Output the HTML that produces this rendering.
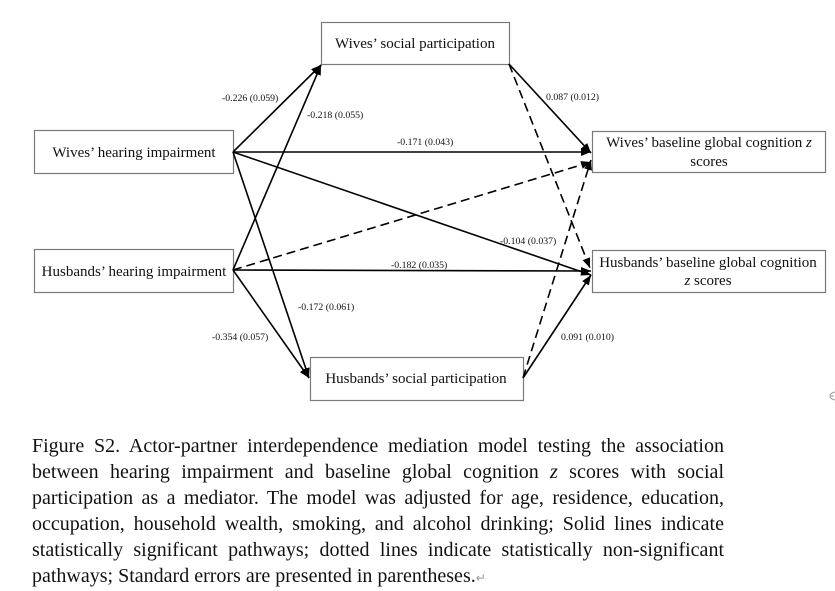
<!DOCTYPE html>
<html>
<head>
<meta charset="utf-8">
<style>
  html, body { margin:0; padding:0; background:#fff; }
  body { width:835px; height:587px; position:relative; overflow:hidden; font-family:"Liberation Serif", serif; }
  svg { position:absolute; left:0; top:0; }
  .cap { position:absolute; left:32px; top:432.5px; width:692px; font-size:20px; line-height:26px; color:#111; }
  .cap div { text-align:justify; text-align-last:justify; white-space:nowrap; }
  .cap div.last { text-align:left; text-align-last:left; }
</style>
</head>
<body>
<svg width="835" height="587" viewBox="0 0 835 587" xmlns="http://www.w3.org/2000/svg">
  <defs>
    <marker id="ah" markerUnits="userSpaceOnUse" markerWidth="12" markerHeight="10" refX="10" refY="4" orient="auto">
      <path d="M0,0 L10,4 L0,8 Z" fill="#000"/>
    </marker>
  </defs>
  <g fill="#fff" stroke="#7a7a7a" stroke-width="1.2">
    <rect x="321.5" y="22.5" width="188" height="42"/>
    <rect x="34.5" y="130.5" width="199" height="43"/>
    <rect x="592.5" y="131.5" width="233" height="41"/>
    <rect x="34.5" y="249.5" width="199" height="43"/>
    <rect x="592.5" y="250.5" width="233" height="42"/>
    <rect x="310.5" y="357.5" width="213" height="43"/>
  </g>
  <g stroke="#000" stroke-width="1.6" fill="none" marker-end="url(#ah)">
    <line x1="233" y1="152" x2="321" y2="65"/>
    <line x1="233" y1="270" x2="321" y2="65"/>
    <line x1="233" y1="152" x2="309" y2="378"/>
    <line x1="233" y1="270" x2="309" y2="378"/>
    <line x1="233" y1="152" x2="591" y2="152"/>
    <line x1="233" y1="152" x2="591" y2="275"/>
    <line x1="233" y1="270" x2="591" y2="271"/>
    <line x1="509" y1="64" x2="591" y2="153"/>
    <line x1="523" y1="378" x2="591" y2="275"/>
  </g>
  <g stroke="#000" stroke-width="1.6" fill="none" stroke-dasharray="9 5" marker-end="url(#ah)">
    <line x1="233" y1="270" x2="591" y2="162"/>
    <line x1="509" y1="64" x2="590" y2="268"/>
    <line x1="523" y1="378" x2="591" y2="160"/>
  </g>
  <g font-family="Liberation Serif, serif" font-size="15" fill="#111" text-anchor="middle">
    <text x="415" y="48">Wives’ social participation</text>
    <text x="134" y="157">Wives’ hearing impairment</text>
    <text x="134" y="276">Husbands’ hearing impairment</text>
    <text x="416" y="383">Husbands’ social participation</text>
    <text x="709" y="147">Wives’ baseline global cognition <tspan font-style="italic">z</tspan></text>
    <text x="709" y="166">scores</text>
    <text x="708" y="267">Husbands’ baseline global cognition</text>
    <text x="708" y="285"><tspan font-style="italic">z</tspan> scores</text>
  </g>
  <g font-family="Liberation Serif, serif" font-size="9.8" fill="#111">
    <text x="222" y="101">-0.226 (0.059)</text>
    <text x="307" y="118">-0.218 (0.055)</text>
    <text x="397" y="145">-0.171 (0.043)</text>
    <text x="546" y="100">0.087 (0.012)</text>
    <text x="500" y="244">-0.104 (0.037)</text>
    <text x="391" y="268">-0.182 (0.035)</text>
    <text x="298" y="310">-0.172 (0.061)</text>
    <text x="212" y="340">-0.354 (0.057)</text>
    <text x="561" y="340">0.091 (0.010)</text>
  </g>
  <path d="M835,392 Q830,393 830,396 Q830,399 835,400 M830,396 L834,396" stroke="#999" stroke-width="1" fill="none"/>
</svg>
<div class="cap">
  <div>Figure S2. Actor-partner interdependence mediation model testing the association</div>
  <div>between hearing impairment and baseline global cognition <i>z</i> scores with social</div>
  <div>participation as a mediator. The model was adjusted for age, residence, education,</div>
  <div>occupation, household wealth, smoking, and alcohol drinking; Solid lines indicate</div>
  <div>statistically significant pathways; dotted lines indicate statistically non-significant</div>
  <div class="last">pathways; Standard errors are presented in parentheses.<span style="color:#999;font-family:'DejaVu Sans',sans-serif;font-size:12px;">↵</span></div>
</div>
</body>
</html>
